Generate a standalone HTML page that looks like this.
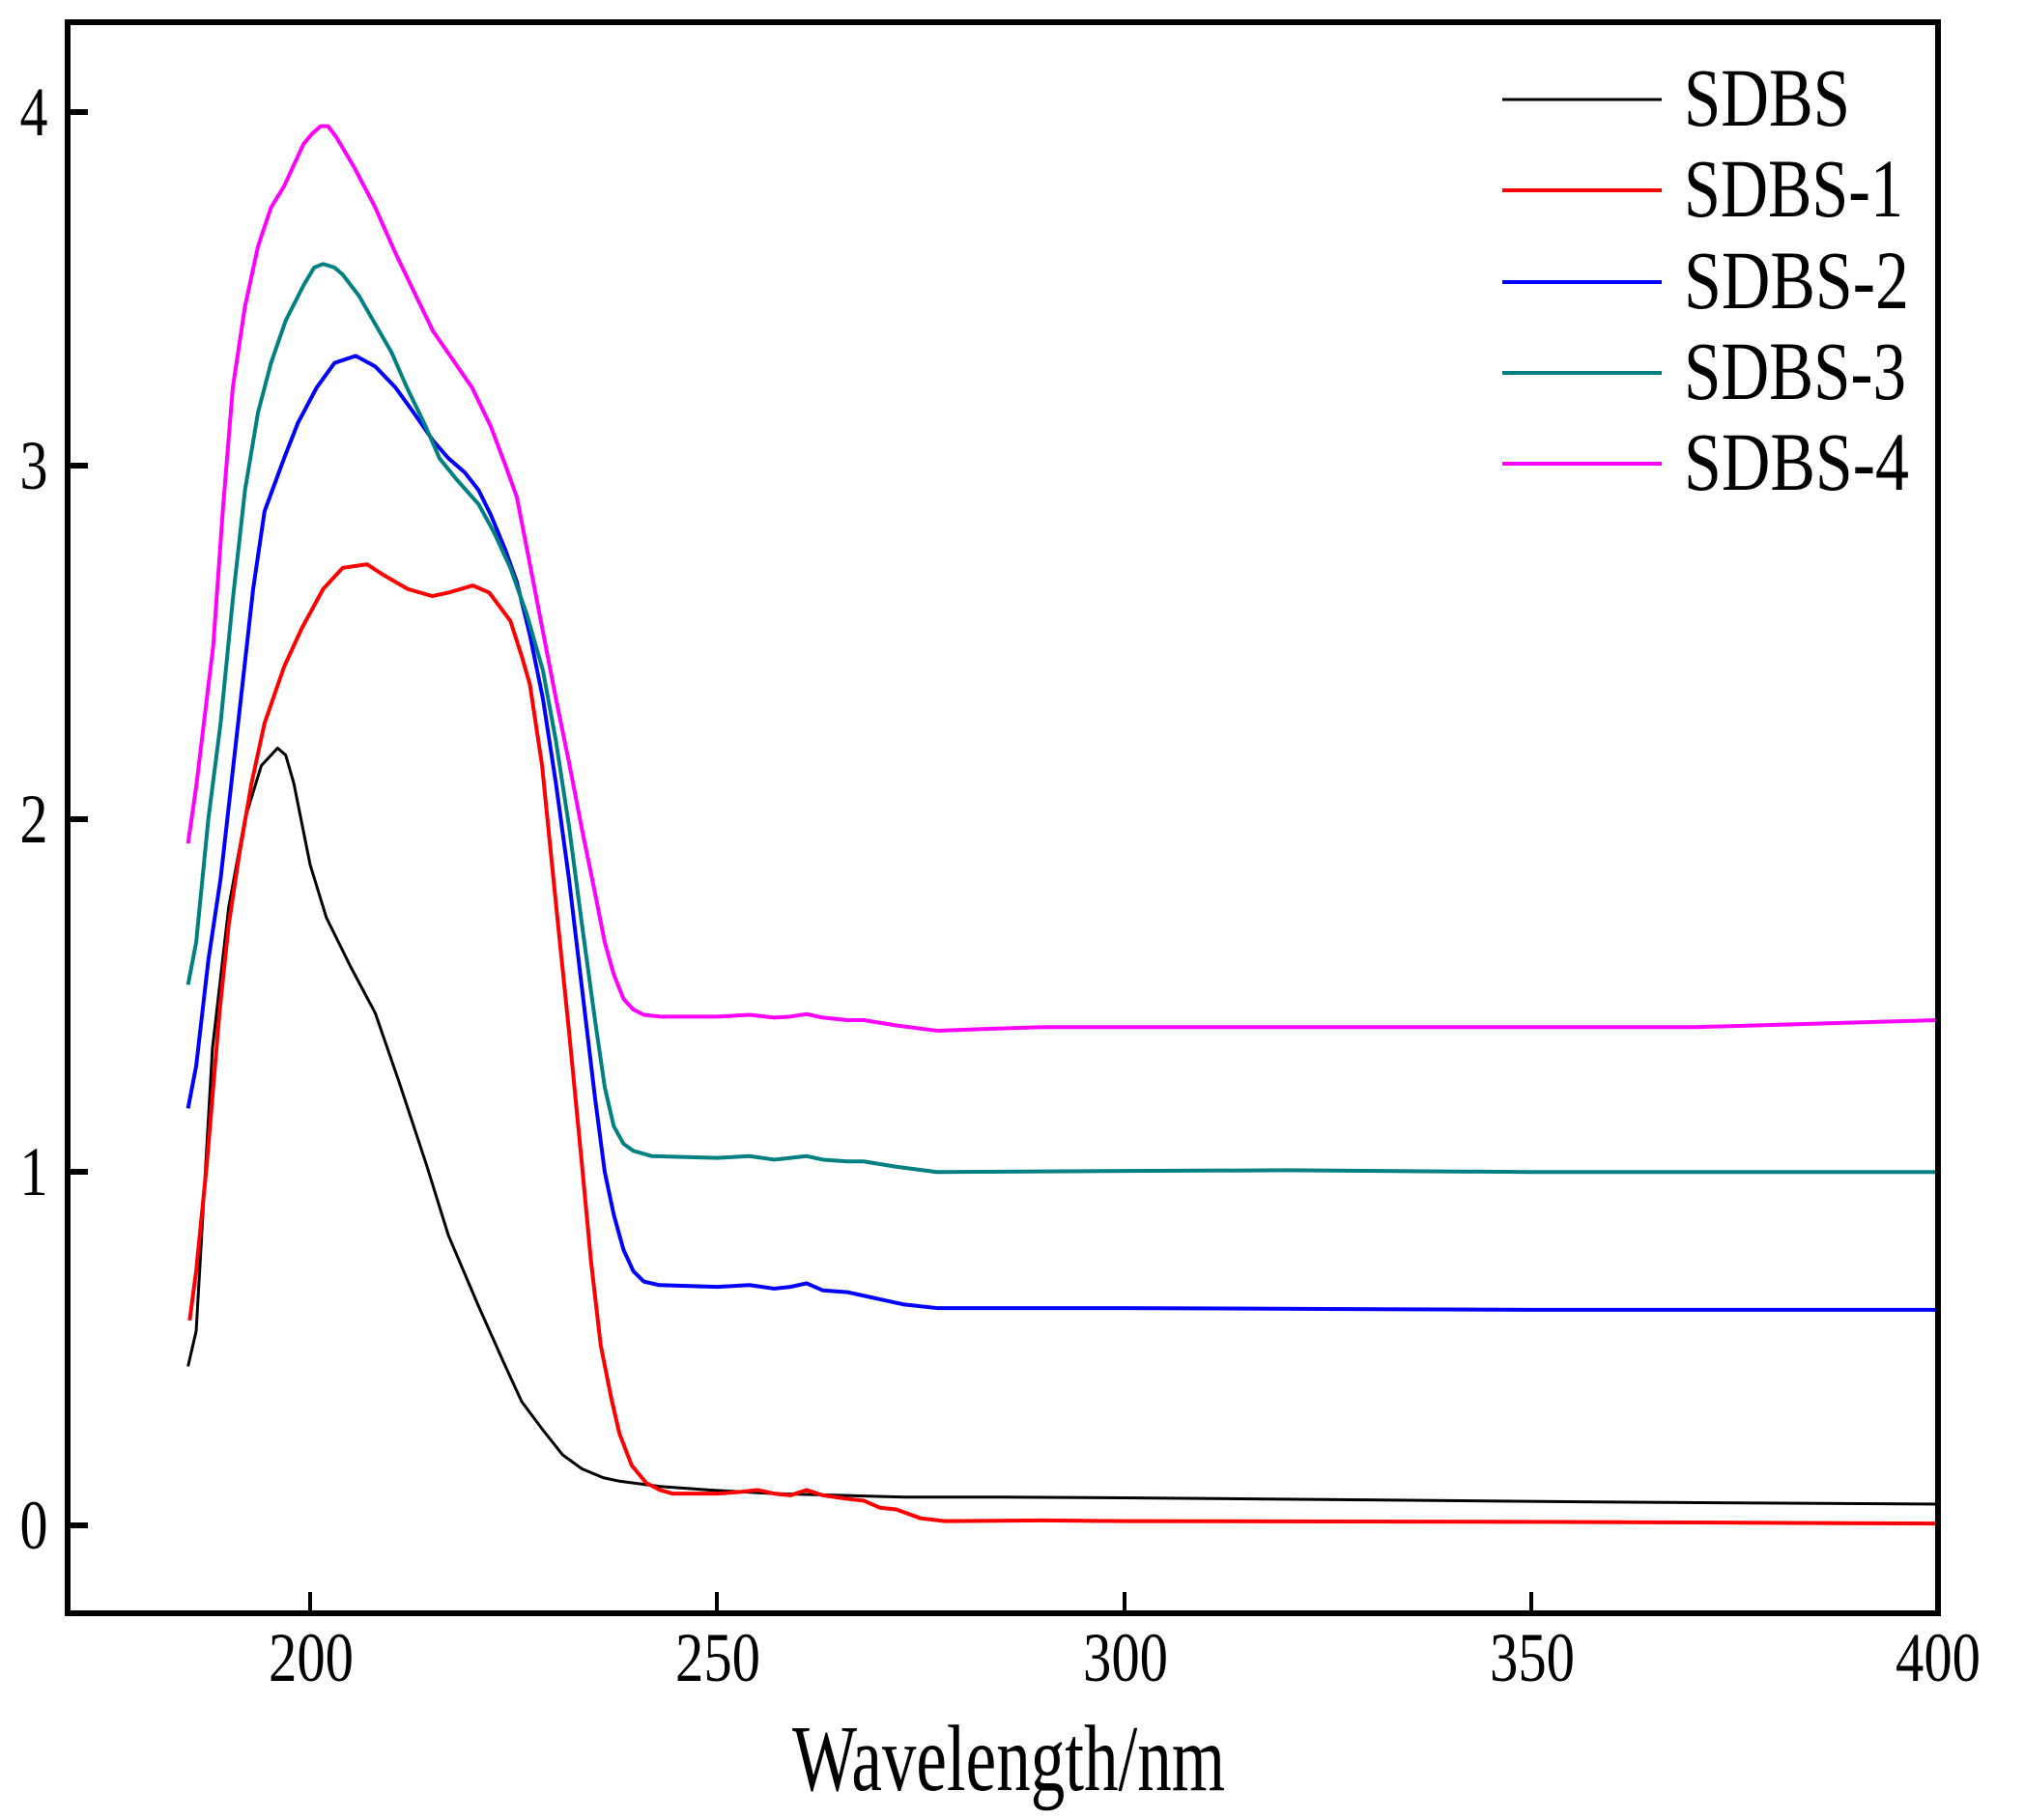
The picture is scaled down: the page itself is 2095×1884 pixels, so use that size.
<!DOCTYPE html>
<html><head><meta charset="utf-8"><style>
html,body{margin:0;padding:0;background:#fff;}
svg{display:block;}
text{font-family:"Liberation Serif",serif;fill:#000;}
</style></head><body>
<svg width="2095" height="1884" viewBox="0 0 2095 1884" xmlns="http://www.w3.org/2000/svg">
<g transform="matrix(8.425 0 0 -365.75 -1364 1579)" fill="none" stroke-linejoin="round">
<polyline vector-effect="non-scaling-stroke" stroke="#000" stroke-width="3" points="185,0.45 186,0.55 187,0.95 188,1.35 190,1.75 192,2.0 194,2.15 196,2.2 197,2.18 198,2.1 200,1.87 202,1.72 205,1.58 208,1.45 211,1.25 214.3,1.02 217,0.82 220.7,0.62 223.8,0.46 226,0.35 228.6,0.27 231,0.2 233.4,0.16 236,0.135 238,0.125 243,0.11 249,0.10 257,0.09 265,0.085 273,0.08 285,0.08 300,0.078 330,0.072 360,0.066 400,0.06"/>
<polyline vector-effect="non-scaling-stroke" stroke="#ff0000" stroke-width="4" points="185.2,0.58 186,0.72 187.3,1.02 188.9,1.46 190,1.7 191.3,1.9 192.8,2.1 194.4,2.27 196.8,2.43 199,2.54 201.6,2.65 204,2.71 207,2.72 209,2.69 212,2.65 215,2.63 217,2.64 220,2.66 222,2.64 224.6,2.56 226,2.46 227,2.38 228.5,2.15 230.2,1.76 231.8,1.4 233.4,1.02 234.5,0.75 235.7,0.51 237,0.36 238,0.26 239.5,0.17 241.3,0.12 243,0.1 244.5,0.09 250,0.09 253,0.095 255,0.1 257,0.09 259,0.085 261,0.1 263,0.085 266,0.075 268,0.07 270,0.05 272,0.045 275,0.02 278,0.012 290,0.014 300,0.012 350,0.01 400,0.005"/>
<polyline vector-effect="non-scaling-stroke" stroke="#0000ff" stroke-width="4" points="185,1.18 186,1.3 187.5,1.6 189,1.83 191.3,2.3 193,2.65 194.4,2.87 196.8,3.02 198.5,3.12 200.8,3.22 203,3.29 205.6,3.31 208,3.28 210.5,3.22 212.7,3.15 215.1,3.07 217,3.02 219,2.98 220.7,2.93 222.2,2.86 224,2.76 225.4,2.67 227,2.52 228.6,2.34 230.2,2.1 231.8,1.83 233.4,1.52 235,1.21 236.2,1.0 237.3,0.88 238.5,0.78 239.7,0.72 241,0.69 242.9,0.68 250,0.675 254,0.68 257,0.67 259,0.675 261,0.685 263,0.665 266,0.66 268,0.65 270,0.64 273,0.625 277,0.615 300,0.615 350,0.61 400,0.61"/>
<polyline vector-effect="non-scaling-stroke" stroke="#008080" stroke-width="4" points="185,1.53 186,1.65 187.5,2.0 189,2.27 190.5,2.62 192,2.93 193.6,3.15 195.2,3.29 197,3.41 199.2,3.51 200.5,3.56 201.6,3.57 203,3.56 204,3.54 206,3.48 208,3.4 210,3.32 211.9,3.22 214,3.12 215.9,3.02 218,2.96 220.7,2.89 222.6,2.81 224.6,2.71 226.6,2.58 228.6,2.42 230.2,2.22 231.8,1.98 233.4,1.7 235,1.43 236.2,1.24 237.3,1.13 238.5,1.08 239.7,1.06 242,1.045 250,1.04 254,1.045 257,1.035 259,1.04 261,1.045 263,1.035 266,1.03 268,1.03 272,1.015 277,1.0 300,1.003 320,1.005 350,1.0 400,1.0"/>
<polyline vector-effect="non-scaling-stroke" stroke="#ff00ff" stroke-width="4" points="185,1.93 186,2.09 188.1,2.49 189.3,2.88 190.5,3.22 192,3.45 193.6,3.62 195.2,3.73 196.8,3.79 198.2,3.86 199.2,3.91 200.3,3.94 201.3,3.96 202.2,3.96 203.2,3.93 205.5,3.84 208,3.73 210.5,3.6 213,3.48 215.1,3.38 217.5,3.3 219.9,3.22 222.2,3.11 224,3.0 225.4,2.91 227,2.72 228.6,2.53 230.2,2.34 231.8,2.16 233.4,1.97 235,1.79 236.2,1.65 237.3,1.56 238.5,1.49 239.7,1.46 241,1.445 243,1.44 250,1.44 254,1.445 257,1.437 259,1.44 261,1.447 263,1.437 266,1.43 268,1.43 272,1.415 277,1.40 283,1.405 290,1.41 300,1.41 320,1.41 350,1.41 370,1.41 400,1.43"/>
</g>
<!-- axes frame -->
<rect x="70" y="23" width="1936" height="1647" fill="none" stroke="#000" stroke-width="6"/>
<!-- y ticks -->
<g stroke="#000" stroke-width="6">
<line x1="70" y1="116" x2="91" y2="116"/>
<line x1="70" y1="482" x2="91" y2="482"/>
<line x1="70" y1="848" x2="91" y2="848"/>
<line x1="70" y1="1213" x2="91" y2="1213"/>
<line x1="70" y1="1579" x2="91" y2="1579"/>
</g>
<g stroke="#000" stroke-width="4">
<line x1="321" y1="1670" x2="321" y2="1648"/>
<line x1="742" y1="1670" x2="742" y2="1648"/>
<line x1="1164" y1="1670" x2="1164" y2="1648"/>
<line x1="1585" y1="1670" x2="1585" y2="1648"/>
</g>
<g font-size="72" text-anchor="middle">
<text x="35" y="140" textLength="29" lengthAdjust="spacingAndGlyphs">4</text>
<text x="35" y="506" textLength="29" lengthAdjust="spacingAndGlyphs">3</text>
<text x="35" y="872" textLength="29" lengthAdjust="spacingAndGlyphs">2</text>
<text x="35" y="1237" textLength="29" lengthAdjust="spacingAndGlyphs">1</text>
<text x="35" y="1603" textLength="29" lengthAdjust="spacingAndGlyphs">0</text>
<text x="322" y="1740" textLength="88" lengthAdjust="spacingAndGlyphs">200</text>
<text x="743" y="1740" textLength="88" lengthAdjust="spacingAndGlyphs">250</text>
<text x="1165" y="1740" textLength="88" lengthAdjust="spacingAndGlyphs">300</text>
<text x="1586" y="1740" textLength="88" lengthAdjust="spacingAndGlyphs">350</text>
<text x="2006" y="1740" textLength="88" lengthAdjust="spacingAndGlyphs">400</text>
</g>
<text x="1044" y="1853" font-size="97" text-anchor="middle" textLength="448" lengthAdjust="spacingAndGlyphs">Wavelength/nm</text>
<!-- legend -->
<g stroke-width="4">
<line x1="1555" y1="103" x2="1720" y2="103" stroke="#000" stroke-width="3"/>
<line x1="1555" y1="197" x2="1720" y2="197" stroke="#ff0000"/>
<line x1="1555" y1="292" x2="1720" y2="292" stroke="#0000ff"/>
<line x1="1555" y1="386" x2="1720" y2="386" stroke="#008080"/>
<line x1="1555" y1="480" x2="1720" y2="480" stroke="#ff00ff"/>
</g>
<g font-size="86">
<text x="1743" y="130" textLength="172" lengthAdjust="spacingAndGlyphs">SDBS</text>
<text x="1743" y="224" textLength="227" lengthAdjust="spacingAndGlyphs">SDBS-1</text>
<text x="1743" y="319" textLength="233" lengthAdjust="spacingAndGlyphs">SDBS-2</text>
<text x="1743" y="413" textLength="230" lengthAdjust="spacingAndGlyphs">SDBS-3</text>
<text x="1743" y="507" textLength="233" lengthAdjust="spacingAndGlyphs">SDBS-4</text>
</g>
</svg>
</body></html>
